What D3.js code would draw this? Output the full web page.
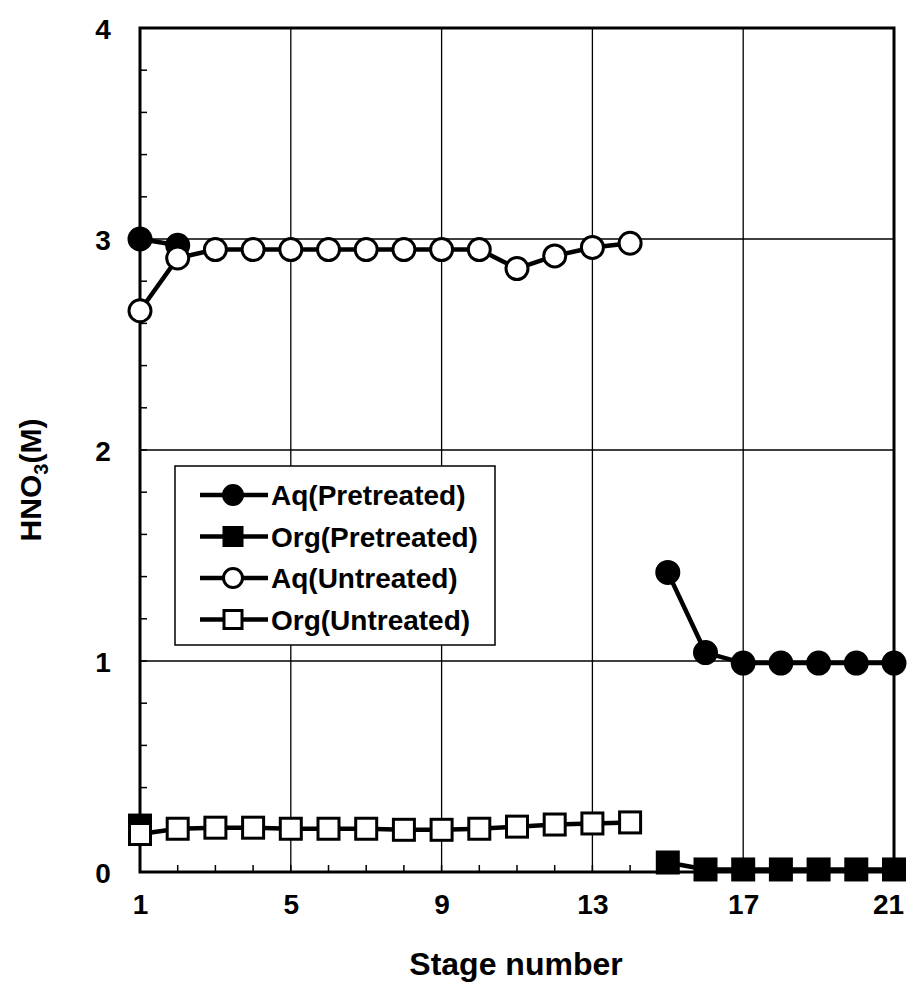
<!DOCTYPE html>
<html>
<head>
<meta charset="utf-8">
<script src="https://cdn.jsdelivr.net/npm/d3@7"></script>
<style>
  html, body { margin: 0; padding: 0; background: #fff; }
  svg { display: block; }
  text { font-family: "Liberation Sans", Arial, sans-serif; fill: #000; }
</style>
</head>
<body>
<svg id="chart" width="909" height="990"></svg>
<script>
// Stage numbers for each series
const stagesFirst = d3.range(1, 15);          // 1..14
const stagesPretreatAqA = [1, 2];
const stagesPretreatB = d3.range(15, 22);     // 15..21

// HNO3 concentration (M)
const aqPretreatedA = [3.0, 2.97];
const aqPretreatedB = [1.42, 1.04, 0.99, 0.99, 0.99, 0.99, 0.99];
const orgPretreatedA = [0.22];
const orgPretreatedB = [0.045, 0.012, 0.012, 0.012, 0.012, 0.012, 0.012];
const aqUntreated = [2.66, 2.91, 2.95, 2.95, 2.95, 2.95, 2.95, 2.95, 2.95, 2.95, 2.86, 2.92, 2.96, 2.98];
const orgUntreated = [0.18, 0.205, 0.21, 0.21, 0.205, 0.205, 0.205, 0.2, 0.2, 0.205, 0.215, 0.225, 0.23, 0.235];

const xTicks = [1, 5, 9, 13, 17, 21];
const yTicks = [0, 1, 2, 3, 4];
const legendLabels = ["Aq(Pretreated)", "Org(Pretreated)", "Aq(Untreated)", "Org(Untreated)"];

const svg = d3.select("#chart");
const plotL = 140, plotR = 894, plotT = 28, plotB = 872;

const x = d3.scaleLinear().domain([1, 21]).range([plotL, plotR]);
const y = d3.scaleLinear().domain([0, 4]).range([plotB, plotT]);

// grid lines
const g = svg.append("g");
g.selectAll("line.vgrid").data(xTicks.slice(1, -1)).join("line")
  .attr("x1", d => x(d)).attr("x2", d => x(d))
  .attr("y1", plotT).attr("y2", plotB)
  .attr("stroke", "#000").attr("stroke-width", 1.3);
g.selectAll("line.hgrid").data(yTicks.slice(1, -1)).join("line")
  .attr("x1", plotL).attr("x2", plotR)
  .attr("y1", d => y(d)).attr("y2", d => y(d))
  .attr("stroke", "#000").attr("stroke-width", 1.3);

// minor ticks (inside)
g.selectAll("line.ytick").data(d3.range(1, 20).map(i => i * 0.2)).join("line")
  .attr("x1", plotL).attr("x2", plotL + 7)
  .attr("y1", d => y(d)).attr("y2", d => y(d))
  .attr("stroke", "#000").attr("stroke-width", 1.5);
g.selectAll("line.xtick").data(d3.range(2, 21)).join("line")
  .attr("x1", d => x(d)).attr("x2", d => x(d))
  .attr("y1", plotB).attr("y2", plotB - 7)
  .attr("stroke", "#000").attr("stroke-width", 1.5);

// frame
g.append("rect").attr("x", plotL).attr("y", plotT)
  .attr("width", plotR - plotL).attr("height", plotB - plotT)
  .attr("fill", "none").attr("stroke", "#000").attr("stroke-width", 3);

// tick labels via d3 axes (axis lines hidden, text only)
const xAxis = svg.append("g").attr("transform", `translate(0,${plotB})`)
  .call(d3.axisBottom(x).tickValues(xTicks).tickSize(0).tickPadding(0));
xAxis.select(".domain").remove();
xAxis.selectAll("text").attr("dy", null).attr("y", 42)
  .attr("dx", d => d === 21 ? -6 : 0)
  .style("font-size", "28px").style("font-weight", "bold")
  .style("font-family", "Liberation Sans, Arial, sans-serif");

const yAxis = svg.append("g").attr("transform", `translate(${plotL},0)`)
  .call(d3.axisLeft(y).tickValues(yTicks).tickSize(0).tickPadding(0).tickFormat(d3.format("d")));
yAxis.select(".domain").remove();
yAxis.selectAll("text").attr("x", -37).attr("text-anchor", "middle").attr("dy", "0.36em")
  .style("font-size", "28px").style("font-weight", "bold")
  .style("font-family", "Liberation Sans, Arial, sans-serif");

svg.append("text").attr("x", 516).attr("y", 975).attr("text-anchor", "middle")
  .style("font-size", "32px").style("font-weight", "bold").text("Stage number");

const yt = svg.append("text").attr("transform", "translate(41,480) rotate(-90)")
  .attr("text-anchor", "middle")
  .style("font-size", "30px").style("font-weight", "bold");
yt.append("tspan").text("HNO");
yt.append("tspan").attr("dy", 7).style("font-size", "20px").text("3");
yt.append("tspan").attr("dy", -7).text("(M)");

// series
const line = d3.line().x(d => x(d[0])).y(d => y(d[1]));
const zip = (a, b) => a.map((s, i) => [s, b[i]]);

const R = 11, S = 21;
function drawSeries(pts, shape, fill) {
  const sg = svg.append("g");
  sg.append("path").datum(pts).attr("d", line)
    .attr("fill", "none").attr("stroke", "#000").attr("stroke-width", 4.5);
  if (shape === "circle") {
    sg.selectAll("circle").data(pts).join("circle")
      .attr("cx", d => x(d[0])).attr("cy", d => y(d[1])).attr("r", R)
      .attr("fill", fill).attr("stroke", "#000").attr("stroke-width", 3);
  } else {
    sg.selectAll("rect").data(pts).join("rect")
      .attr("x", d => x(d[0]) - S / 2).attr("y", d => y(d[1]) - S / 2)
      .attr("width", S).attr("height", S)
      .attr("fill", fill).attr("stroke", "#000").attr("stroke-width", 3);
  }
}

drawSeries(zip(stagesPretreatAqA, aqPretreatedA), "circle", "#000");
drawSeries(zip(stagesPretreatB, aqPretreatedB), "circle", "#000");
drawSeries(zip([1], orgPretreatedA), "rect", "#000");
drawSeries(zip(stagesPretreatB, orgPretreatedB), "rect", "#000");
drawSeries(zip(stagesFirst, aqUntreated), "circle", "#fff");
drawSeries(zip(stagesFirst, orgUntreated), "rect", "#fff");

// legend
const lg = svg.append("g").attr("transform", "translate(175,466)");
lg.append("rect").attr("width", 320).attr("height", 179)
  .attr("fill", "#fff").attr("stroke", "#000").attr("stroke-width", 1.5);
const shapes = ["circle", "rect", "circle", "rect"];
const fills = ["#000", "#000", "#fff", "#fff"];
legendLabels.forEach((lab, i) => {
  const cy = 29 + i * 41.5;
  lg.append("line").attr("x1", 25).attr("x2", 93).attr("y1", cy).attr("y2", cy)
    .attr("stroke", "#000").attr("stroke-width", 4.5);
  if (shapes[i] === "circle") {
    lg.append("circle").attr("cx", 58).attr("cy", cy).attr("r", 9.5)
      .attr("fill", fills[i]).attr("stroke", "#000").attr("stroke-width", 3);
  } else {
    lg.append("rect").attr("x", 58 - 9).attr("y", cy - 9).attr("width", 18).attr("height", 18)
      .attr("fill", fills[i]).attr("stroke", "#000").attr("stroke-width", 3);
  }
  lg.append("text").attr("x", 96).attr("y", cy).attr("dy", "0.36em")
    .style("font-size", "28px").style("font-weight", "bold").text(lab);
});
</script>
</body>
</html>
